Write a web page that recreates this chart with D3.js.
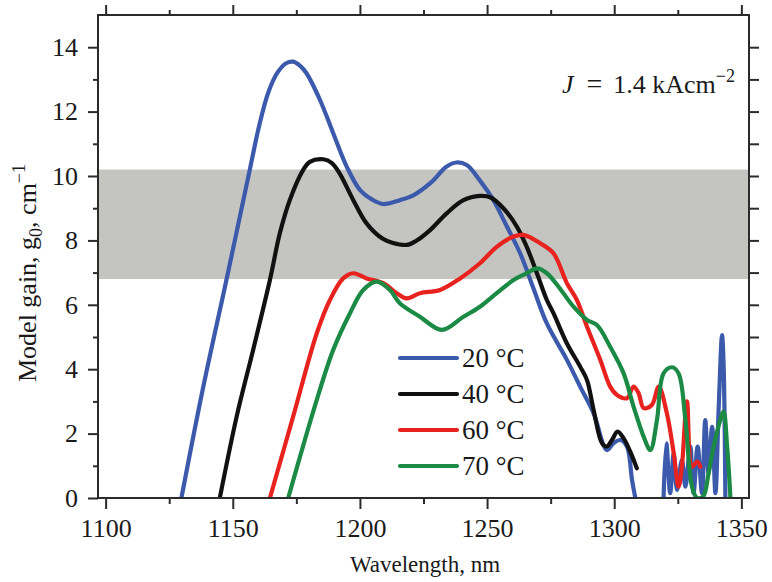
<!DOCTYPE html>
<meta charset="utf-8">
<style>
body { margin: 0; background: #fff; }
text { font-family: "Liberation Serif", "Times New Roman", serif; fill: #1a1a1a; }
.axis path { display: none; }
.axis line { stroke: #2b2b2b; stroke-width: 2; }
.axis text { font-size: 26px; font-family: "Liberation Serif", "Times New Roman", serif; }
</style>
<svg width="772" height="582"></svg>
<script src="https://cdn.jsdelivr.net/npm/d3@7"></script>
<script>
// ---- data (wavelength nm, gain cm^-1) ----
var series = ["20 °C", "40 °C", "60 °C", "70 °C"]
var colors = ["#3b5aab", "#111111", "#e8231f", "#1b8a45"]

var gain20 = [
  [1129.8,0],[1138,3.3],[1147.5,6.77],[1156.7,10.2],[1160.5,11.6],[1164,12.6],[1167.5,13.2],
  [1171,13.5],[1173.7,13.55],[1176.5,13.42],[1179,13.19],[1184.3,12.36],
  [1189.5,11.33],[1194.8,10.29],[1200,9.57],[1205.2,9.25],[1209.2,9.13],[1215.7,9.25],
  [1221,9.4],[1228,9.8],[1234,10.29],[1238,10.42],[1242,10.34],[1247,9.88],[1252.5,9.25],
  [1257.8,8.43],[1263,7.6],[1268,6.56],[1273.5,5.42],[1281.4,4.29],[1286.6,3.46],
  [1291.9,2.63],[1297.1,1.49],[1299.7,1.7],[1302.4,1.8],[1305,1.6],[1307,0.56],[1308.3,0],
  [1314,null],
  [1319.4,0],[1320.5,1.7],[1322,0.15],[1323.4,1.39],[1324.7,0.25],[1326.6,1.18],[1328,0.35],
  [1329.9,1.6],[1331.2,0.15],[1332.8,1.6],[1334.5,0.15],[1335.8,2.42],[1337.1,0.77],
  [1338.5,2.21],[1339.8,0.15],[1341.1,2.84],[1342.4,5.06],[1343,4.18],[1343.7,0]
]
var gain40 = [
  [1144.9,0],[1151.5,2.52],[1158,4.6],[1164.6,6.77],[1168.5,8.22],[1172.4,9.25],
  [1177.7,10.19],[1180.3,10.44],[1185.6,10.52],[1189,10.4],[1192,10.08],[1197.4,9.25],
  [1202.6,8.53],[1209,8.05],[1213,7.92],[1218.4,7.86],[1222,7.98],[1227.6,8.32],
  [1234.1,8.84],[1240.7,9.25],[1247.2,9.38],[1251.2,9.34],[1256.4,9.0],[1261.7,8.43],
  [1265.6,7.8],[1269.6,6.98],[1273.5,6.15],[1276.1,5.74],[1281.4,4.8],[1286.6,4.08],
  [1289.3,3.66],[1291.9,2.73],[1295.2,1.7],[1297.1,1.6],[1299.1,1.8],[1301.3,2.06],
  [1303.7,1.85],[1306.3,1.44],[1308.9,0.92]
]
var gain60 = [
  [1164.6,0],[1173.7,2.52],[1183,5.11],[1188.2,6.15],[1193.4,6.82],[1197.4,6.98],
  [1202.6,6.82],[1209.2,6.67],[1214.5,6.36],[1218.4,6.2],[1223.6,6.36],[1231.5,6.46],
  [1239.4,6.82],[1247.2,7.29],[1253.8,7.8],[1260.4,8.12],[1264.3,8.17],[1270.9,7.91],
  [1276.1,7.6],[1281.4,6.67],[1285.3,6.15],[1289.3,5.32],[1294.5,4.29],[1298.4,3.46],
  [1301.1,3.2],[1305,3.1],[1307.6,3.46],[1309.6,3.25],[1311.6,2.79],[1314.8,2.89],
  [1317.5,3.46],[1320.7,2.63],[1323.4,1.39],[1325.3,0.35],[1326.6,0.97],[1328.6,3.0],
  [1330.6,0.97],[1332.6,1.13],[1333.9,0.97]
]
var gain70 = [
  [1171.8,0],[1183,3.04],[1189.5,4.6],[1196.1,5.74],[1201.3,6.46],[1206.6,6.72],
  [1211.8,6.46],[1215.7,6.05],[1223.6,5.63],[1232.2,5.22],[1240.7,5.63],[1247.2,5.94],
  [1253.8,6.36],[1260.4,6.77],[1265.6,6.98],[1269.6,7.13],[1273.5,6.98],[1278.7,6.5],
  [1284,5.94],[1289.3,5.53],[1293.2,5.37],[1298.4,4.7],[1303.7,3.87],[1307.6,2.84],
  [1311.6,1.9],[1314.2,1.49],[1316.8,2.42],[1319.4,3.87],[1322.7,4.06],[1325.3,3.87],
  [1328,2.42],[1330.6,0.35],[1332.6,0],[1335,0.05],[1337.1,0.77],[1339.1,1.6],
  [1341.7,2.42],[1343,2.68],[1344.4,1.6],[1345.7,0]
]
var band = [6.8, 10.2]          // shaded gain window
var xMajor = [1100, 1150, 1200, 1250, 1300, 1350]
var xMinor = [1125, 1175, 1225, 1275, 1325]
var yMajor = [0, 2, 4, 6, 8, 10, 12, 14]
var yMinor = [1, 3, 5, 7, 9, 11, 13]

var svg = d3.select("svg")

var x = d3.scaleLinear().domain([1097, 1353]).range([98, 749])
var y = d3.scaleLinear().domain([0, 15]).range([498, 15])

var H = y.range()[0], T = y.range()[1], L = x.range()[0], R = x.range()[1]

svg.append("clipPath").attr("id", "plot")
  .append("rect").attr("x", L).attr("y", T).attr("width", R - L).attr("height", H - T)

// gray band
svg.append("rect")
  .attr("x", L)
  .attr("width", R - L)
  .attr("y", y(band[1]))
  .attr("height", y(band[0]) - y(band[1]))
  .attr("fill", "#c4c4c1")

// curves
var line = d3.line()
  .defined(function(d){ return d[1] !== null })
  .x(function(d){ return x(d[0]) })
  .y(function(d){ return y(d[1]) })
  .curve(d3.curveCatmullRom.alpha(0.5))

var data = [gain20, gain40, gain60, gain70]
svg.append("g").attr("clip-path", "url(#plot)").selectAll("path")
  .data(data)
  .enter().append("path")
    .attr("d", line)
    .attr("fill", "none")
    .attr("stroke", function(d, i){ return colors[i] })
    .attr("stroke-width", 4.2)
    .attr("stroke-linejoin", "round")
    .attr("stroke-linecap", "round")

// axes
svg.append("g").attr("class", "axis").attr("transform", "translate(0," + H + ")")
  .call(d3.axisBottom(x).tickValues(xMajor).tickSize(11).tickPadding(10).tickFormat(d3.format("d")))
svg.append("g").attr("class", "axis").attr("transform", "translate(0," + H + ")")
  .call(d3.axisBottom(x).tickValues(xMinor).tickSize(6).tickFormat(""))
svg.append("g").attr("class", "axis").attr("transform", "translate(0," + T + ")")
  .call(d3.axisTop(x).tickValues(xMajor).tickSize(10).tickFormat(""))
svg.append("g").attr("class", "axis").attr("transform", "translate(0," + T + ")")
  .call(d3.axisTop(x).tickValues(xMinor).tickSize(5).tickFormat(""))

svg.append("g").attr("class", "axis").attr("transform", "translate(" + L + ",0)")
  .call(d3.axisLeft(y).tickValues(yMajor).tickSize(10).tickPadding(10))
svg.append("g").attr("class", "axis").attr("transform", "translate(" + L + ",0)")
  .call(d3.axisLeft(y).tickValues(yMinor).tickSize(5).tickFormat(""))
svg.append("g").attr("class", "axis").attr("transform", "translate(" + R + ",0)")
  .call(d3.axisRight(y).tickValues(d3.range(1, 15)).tickSize(10).tickFormat(""))

svg.append("rect")
  .attr("x", L).attr("y", T).attr("width", R - L).attr("height", H - T)
  .attr("fill", "none").attr("stroke", "#2b2b2b").attr("stroke-width", 2)

// axis titles
svg.append("text")
  .attr("x", 425).attr("y", 572)
  .attr("text-anchor", "middle")
  .style("font-size", "23px")
  .text("Wavelength, nm")

var yl = svg.append("text")
  .attr("transform", "translate(36,273) rotate(-90)")
  .attr("text-anchor", "middle")
  .style("font-size", "26px")
yl.append("tspan").text("Model gain, g")
yl.append("tspan").attr("dy", 6).style("font-size", "18px").text("0")
yl.append("tspan").attr("dy", -6).text(", cm")
yl.append("tspan").attr("dy", -11).style("font-size", "18px").text("−1")

// annotation
var ann = svg.append("text")
  .attr("x", 735).attr("y", 93)
  .attr("text-anchor", "end")
  .style("font-size", "26px")
ann.append("tspan").style("font-style", "italic").text("J")
ann.append("tspan").attr("dx", 13).style("font-size", "28px").text("=")
ann.append("tspan").attr("dx", 11).text("1.4 kAcm")
ann.append("tspan").attr("dy", -11).style("font-size", "18px").text("−2")

// legend
var leg = svg.append("g").selectAll("g")
  .data(series)
  .enter().append("g")
    .attr("transform", function(d, i){ return "translate(400," + (358 + i * 36) + ")" })
leg.append("line")
  .attr("x1", 0).attr("x2", 57)
  .attr("stroke", function(d, i){ return colors[i] })
  .attr("stroke-width", 4.2)
  .attr("stroke-linecap", "round")
leg.append("text")
  .attr("x", 62).attr("y", 9)
  .style("font-size", "27px")
  .text(function(d){ return d })
</script>
